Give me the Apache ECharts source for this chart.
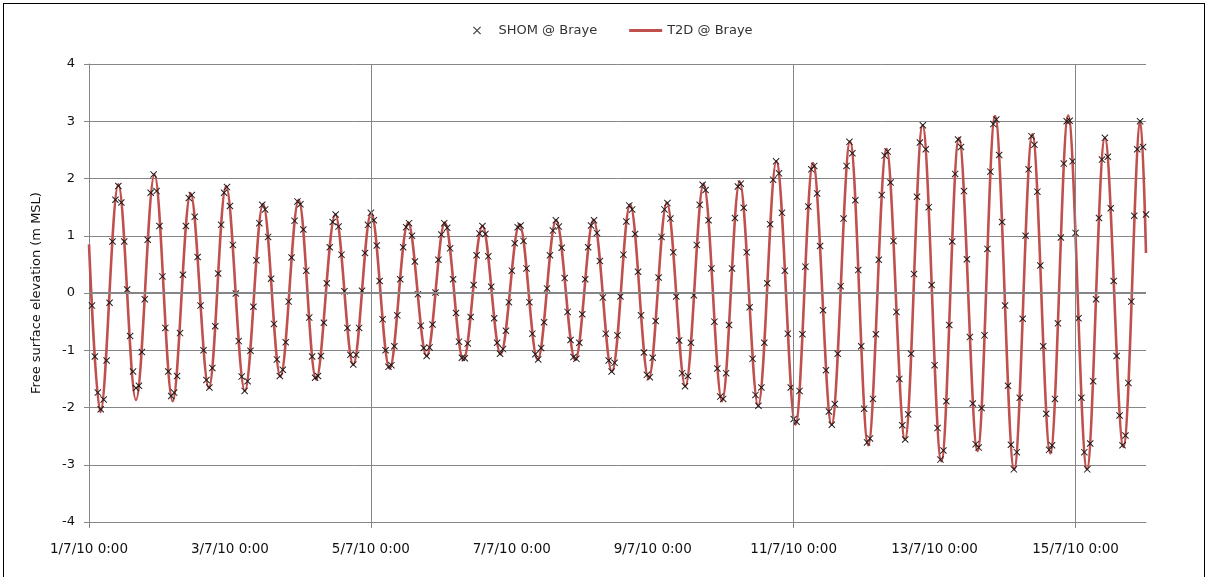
<!DOCTYPE html>
<html>
<head>
<meta charset="utf-8">
<script src="https://cdn.jsdelivr.net/npm/echarts@6/dist/echarts.min.js"></script>
<style>
  html, body { margin: 0; padding: 0; background: #fff; }
  #chart { position: absolute; left: 0; top: 0; width: 1208px; height: 577px; }
  #frame { position: absolute; left: 3px; top: 3px; width: 1202px; height: 580px;
           border: 1.5px solid #000; box-sizing: border-box; pointer-events: none; }
</style>
</head>
<body>
<div id="chart"></div>
<div id="frame"></div>
<script>
// Date labels of the time axis, one every 48 hours from 1/7/10 0:00
const xTickLabels = ['1/7/10 0:00', '3/7/10 0:00', '5/7/10 0:00', '7/7/10 0:00',
                     '9/7/10 0:00', '11/7/10 0:00', '13/7/10 0:00', '15/7/10 0:00'];

// T2D model: successive high / low waters (hours since 1/7/10 0:00, m MSL)
const t2dHours = [0, 3.9, 10.0, 16.0, 22.3, 28.5, 34.6, 40.8, 46.7, 53.1, 59.3, 65.2, 71.4,
  77.4, 83.9, 90.0, 96.1, 102.4, 108.7, 115.0, 121.2, 127.5, 134.0, 140.2, 146.6, 152.8,
  159.1, 165.6, 171.8, 178.1, 184.3, 190.6, 196.8, 203.1, 209.3, 215.6, 221.6, 227.9,
  234.1, 240.6, 246.6, 252.9, 259.2, 265.4, 271.6, 277.9, 283.9, 290.3, 296.3, 302.6,
  308.6, 315.1, 321.3, 327.4, 333.5, 339.9, 346.0, 352.3, 358.1, 360];
const t2dLevels = [0.85, -2.08, 1.90, -1.87, 2.07, -1.89, 1.74, -1.66, 1.87, -1.71, 1.56, -1.46, 1.63,
  -1.51, 1.37, -1.25, 1.40, -1.32, 1.23, -1.10, 1.23, -1.17, 1.17, -1.07, 1.20, -1.17,
  1.27, -1.17, 1.28, -1.37, 1.55, -1.50, 1.58, -1.63, 1.91, -1.89, 1.95, -1.97,
  2.30, -2.30, 2.27, -2.30, 2.65, -2.66, 2.52, -2.56, 2.93, -2.94, 2.71, -2.76,
  3.09, -3.08, 2.77, -2.80, 3.10, -3.08, 2.71, -2.69, 3.00, 0.70];

// SHOM hourly levels (m MSL), first value at 1/7/10 1:00
const shomFirstHour = 1;
const shomLevels = [
  -0.22, -1.11, -1.74, -2.03, -1.86, -1.18, -0.17, 0.90, 1.63, 1.87,
  1.58, 0.90, 0.06, -0.75, -1.37, -1.66, -1.62, -1.03, -0.11, 0.93,
  1.75, 2.07, 1.78, 1.17, 0.29, -0.61, -1.37, -1.80, -1.74, -1.45,
  -0.70, 0.32, 1.17, 1.66, 1.71, 1.33, 0.63, -0.22, -1.00, -1.52,
  -1.65, -1.31, -0.58, 0.34, 1.19, 1.75, 1.85, 1.52, 0.84, -0.01,
  -0.84, -1.46, -1.71, -1.54, -1.01, -0.24, 0.57, 1.22, 1.54, 1.46,
  0.98, 0.25, -0.54, -1.16, -1.45, -1.34, -0.86, -0.15, 0.62, 1.26,
  1.60, 1.55, 1.11, 0.39, -0.43, -1.11, -1.48, -1.45, -1.10, -0.52,
  0.17, 0.80, 1.24, 1.37, 1.16, 0.67, 0.03, -0.61, -1.08, -1.25,
  -1.08, -0.61, 0.04, 0.70, 1.19, 1.40, 1.27, 0.83, 0.21, -0.46,
  -1.00, -1.29, -1.26, -0.93, -0.39, 0.24, 0.80, 1.15, 1.22, 1.00,
  0.55, -0.02, -0.57, -0.96, -1.10, -0.95, -0.55, 0.01, 0.58, 1.02,
  1.22, 1.14, 0.78, 0.24, -0.35, -0.85, -1.13, -1.14, -0.88, -0.42,
  0.14, 0.66, 1.04, 1.17, 1.03, 0.64, 0.11, -0.44, -0.87, -1.06,
  -0.98, -0.66, -0.16, 0.39, 0.87, 1.15, 1.18, 0.91, 0.43, -0.16,
  -0.71, -1.07, -1.16, -0.96, -0.51, 0.08, 0.66, 1.09, 1.27, 1.16,
  0.79, 0.26, -0.33, -0.82, -1.12, -1.15, -0.87, -0.37, 0.24, 0.80,
  1.18, 1.27, 1.05, 0.56, -0.08, -0.71, -1.18, -1.37, -1.22, -0.74,
  -0.06, 0.67, 1.25, 1.53, 1.46, 1.03, 0.37, -0.39, -1.04, -1.43,
  -1.47, -1.13, -0.49, 0.27, 0.98, 1.46, 1.57, 1.30, 0.71, -0.06,
  -0.83, -1.40, -1.63, -1.45, -0.87, -0.04, 0.84, 1.54, 1.89, 1.80,
  1.27, 0.43, -0.50, -1.32, -1.81, -1.85, -1.40, -0.56, 0.43, 1.31,
  1.86, 1.91, 1.49, 0.71, -0.25, -1.15, -1.78, -1.97, -1.65, -0.87,
  0.17, 1.20, 1.98, 2.30, 2.09, 1.40, 0.39, -0.71, -1.65, -2.20,
  -2.25, -1.71, -0.72, 0.46, 1.51, 2.16, 2.22, 1.74, 0.82, -0.30,
  -1.35, -2.07, -2.30, -1.94, -1.06, 0.12, 1.30, 2.22, 2.64, 2.44,
  1.62, 0.40, -0.93, -2.02, -2.61, -2.54, -1.85, -0.72, 0.58, 1.71,
  2.40, 2.47, 1.93, 0.91, -0.33, -1.50, -2.31, -2.56, -2.12, -1.06,
  0.33, 1.68, 2.63, 2.93, 2.51, 1.50, 0.14, -1.26, -2.36, -2.91,
  -2.75, -1.89, -0.56, 0.90, 2.08, 2.68, 2.55, 1.78, 0.59, -0.77,
  -1.93, -2.64, -2.70, -2.01, -0.74, 0.77, 2.12, 2.95, 3.03, 2.41,
  1.24, -0.22, -1.62, -2.65, -3.08, -2.78, -1.83, -0.45, 1.00, 2.16,
  2.74, 2.59, 1.77, 0.48, -0.93, -2.11, -2.74, -2.66, -1.85, -0.53,
  0.97, 2.26, 3.00, 3.01, 2.30, 1.05, -0.44, -1.83, -2.78, -3.08,
  -2.63, -1.54, -0.11, 1.31, 2.33, 2.71, 2.38, 1.48, 0.21, -1.10,
  -2.14, -2.66, -2.49, -1.57, -0.15, 1.35, 2.51, 3.00, 2.55, 1.37
];

// Hours that carry a vertical gridline and an axis tick
const xMarkedHours = [0, 96, 240, 336];

const GRID = '#868686';
const FONT = 'DejaVu Sans';
const RED = '#C0504D';
// thin diagonal cross used for the SHOM points
const CROSS = 'path://M0,1L1,0L10,9L9,10Z M9,0L10,1L1,10L0,9Z';
// short horizontal bar used as the T2D legend key
const BAR = 'path://M0,0H33V3H0Z';

const chart = echarts.init(document.getElementById('chart'), null, { renderer: 'canvas' });

chart.setOption({
  animation: false,
  backgroundColor: '#fff',
  grid: { left: 89, right: 62, top: 64, bottom: 55 },
  legend: {
    left: 468, top: 19,
    itemWidth: 33, itemHeight: 8, itemGap: 32,
    textStyle: { fontFamily: FONT, fontSize: 13, color: '#333' },
    data: [
      { name: 'SHOM @ Braye', icon: CROSS, itemStyle: { color: '#333' } },
      { name: 'T2D @ Braye', icon: BAR, itemStyle: { color: RED } }
    ]
  },
  xAxis: {
    type: 'value', min: 0, max: 360, interval: 48,
    axisLine: { show: true, onZero: false, lineStyle: { color: GRID, width: 1 } },
    axisTick: { show: true, customValues: xMarkedHours, length: 6, lineStyle: { color: GRID } },
    axisLabel: {
      customValues: xTickLabels.map((_, i) => i * 48),
      formatter: v => xTickLabels[Math.round(v / 48)],
      margin: 20, fontFamily: FONT, fontSize: 13.5, color: '#111'
    },
    splitLine: { show: false }
  },
  yAxis: {
    type: 'value', min: -4, max: 4, interval: 1,
    name: 'Free surface elevation (m MSL)',
    nameLocation: 'middle', nameGap: 46,
    nameTextStyle: { fontFamily: FONT, fontSize: 13, color: '#111' },
    axisLine: { show: true, lineStyle: { color: GRID, width: 1 } },
    axisTick: { show: true, length: 5, lineStyle: { color: GRID } },
    axisLabel: { margin: 14, fontFamily: FONT, fontSize: 13, color: '#111' },
    splitLine: { show: true, lineStyle: { color: GRID, width: 1 } }
  },
  series: [
    {
      name: 'gridlines', type: 'line', data: [], z: 1, silent: true,
      markLine: {
        silent: true, symbol: ['none', 'none'], animation: false,
        label: { show: false },
        lineStyle: { color: GRID, width: 1, type: 'solid' },
        emphasis: { disabled: true },
        data: xMarkedHours.slice(1).map(h => ({ xAxis: h }))
          .concat([{ yAxis: 0, lineStyle: { color: GRID, width: 2, type: 'solid' } }])
      }
    },
    {
      name: 'SHOM @ Braye', type: 'scatter', z: 4,
      symbol: CROSS, symbolSize: 7,
      itemStyle: { color: '#151515', opacity: 0.95 },
      data: shomLevels.map((v, i) => [shomFirstHour + i, v])
    },
    {
      name: 'T2D @ Braye', type: 'line', z: 3,
      smooth: 0.35, showSymbol: false, symbol: 'none',
      lineStyle: { color: RED, width: 2.6 },
      itemStyle: { color: RED },
      data: t2dHours.map((h, i) => [h, t2dLevels[i]])
    }
  ]
});
</script>
</body>
</html>
